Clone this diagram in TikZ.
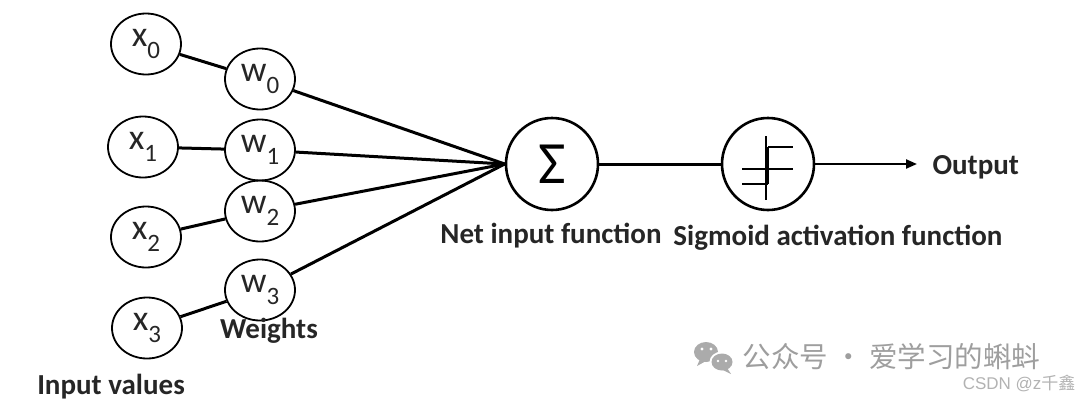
\documentclass[tikz,border=0pt]{standalone}
\usepackage{fontspec}
\setmainfont{Carlito}
\newfontfamily\cjk{Noto Sans CJK SC}
\newfontfamily\wmsans{Liberation Sans}
\usetikzlibrary{shapes.geometric,arrows.meta}
\newcommand{\nsub}[2]{#1\raisebox{-0.32em}{\fontsize{25}{25}\selectfont #2}}
\begin{document}
\begin{tikzpicture}[x=1pt,y=-1pt,
 neuron/.style={ellipse,draw,line width=1.8pt,minimum width=70pt,minimum height=61pt,inner sep=0pt,font=\fontsize{36}{38}\selectfont,text=black!85},
 unit/.style={circle,draw,line width=2.6pt,minimum size=92pt,inner sep=0pt},
 conn/.style={line width=3pt},
 sym/.style={line width=2.2pt},
 lbl/.style={font=\bfseries\fontsize{29}{31}\selectfont,text=black!85},
 wm/.style={text=black!38},
]
\useasboundingbox (0,0) rectangle (1080,402);
% input and weight nodes
\node[neuron] (x0) at (146,44) {\nsub{x}{0}};
\node[neuron] (w0) at (260,79) {\nsub{w}{0}};
\node[neuron] (x1) at (143,147) {\nsub{x}{1}};
\node[neuron] (w1) at (260,150) {\nsub{w}{1}};
\node[neuron] (x2) at (146,237) {\nsub{x}{2}};
\node[neuron] (w2) at (260,211) {\nsub{w}{2}};
\node[neuron] (x3) at (147,328) {\nsub{x}{3}};
\node[neuron] (w3) at (260,290) {\nsub{w}{3}};
% units
\node[unit,font=\fontsize{60}{62}\selectfont] (sum) at (552,164) {Σ};
\node[unit] (sig) at (768,164) {};
\draw[sym] ([shift={(-2,-28)}]sig.center) -- ([shift={(-2,36)}]sig.center);
\draw[sym] ([shift={(0,-17)}]sig.center) -- ([shift={(0,20)}]sig.center);
\draw[sym] ([shift={(0,-17)}]sig.center) -- ([shift={(25,-17)}]sig.center);
\draw[sym] ([shift={(-26,5)}]sig.center) -- ([shift={(25,5)}]sig.center);
\draw[sym] ([shift={(-26,20)}]sig.center) -- ([shift={(0,20)}]sig.center);
% connectors
\draw[conn] (x0) -- (w0);
\draw[conn] (x1) -- (w1);
\draw[conn] (x2) -- (w2);
\draw[conn] (x3) -- (w3);
\draw[conn] (w0) -- (sum.west);
\draw[conn] (w1) -- (sum.west);
\draw[conn] (w2) -- (sum.west);
\draw[conn] (w3) -- (sum.west);
\draw[conn] (sum) -- (sig);
\coordinate (out) at (917,164);
\draw[line width=2.2pt,-{Triangle[length=11pt,width=9pt]}] (sig) -- (out);
% labels
\node[lbl,anchor=west] (outlbl) at (929,167) {Output};
\node[lbl] (netlbl) at (551,236) {Net input function};
\node[lbl] (siglbl) at (838,238) {Sigmoid activation function};
\node[lbl] (wlbl) at (269,331) {Weights};
\node[lbl] (inlbl) at (111,387) {Input values};
% watermark
\fill[black!33] (706,352) ellipse [x radius=12, y radius=10];
\fill[black!33] (700,359) -- (697,366) -- (706,361) -- cycle;
\fill[white] (722,362) ellipse [x radius=12.5, y radius=10.5];
\fill[black!33] (722,362) ellipse [x radius=10.5, y radius=8.5];
\fill[black!33] (727,368) -- (731,374) -- (721,369) -- cycle;
\fill[white] (702,349) circle (1.6) (711,349) circle (1.6) (718,361) circle (1.4) (726,361) circle (1.4);
\node[wm,anchor=west,font=\cjk\fontsize{28.5}{30}\selectfont] (wm1) at (739,357) {公众号 · 爱学习的蝌蚪};
\node[wm,anchor=east,text=black!30,font=\fontsize{17}{19}\selectfont] (wm2) at (1079,383) {\wmsans CSDN @z\cjk 千鑫};
\end{tikzpicture}
\end{document}
